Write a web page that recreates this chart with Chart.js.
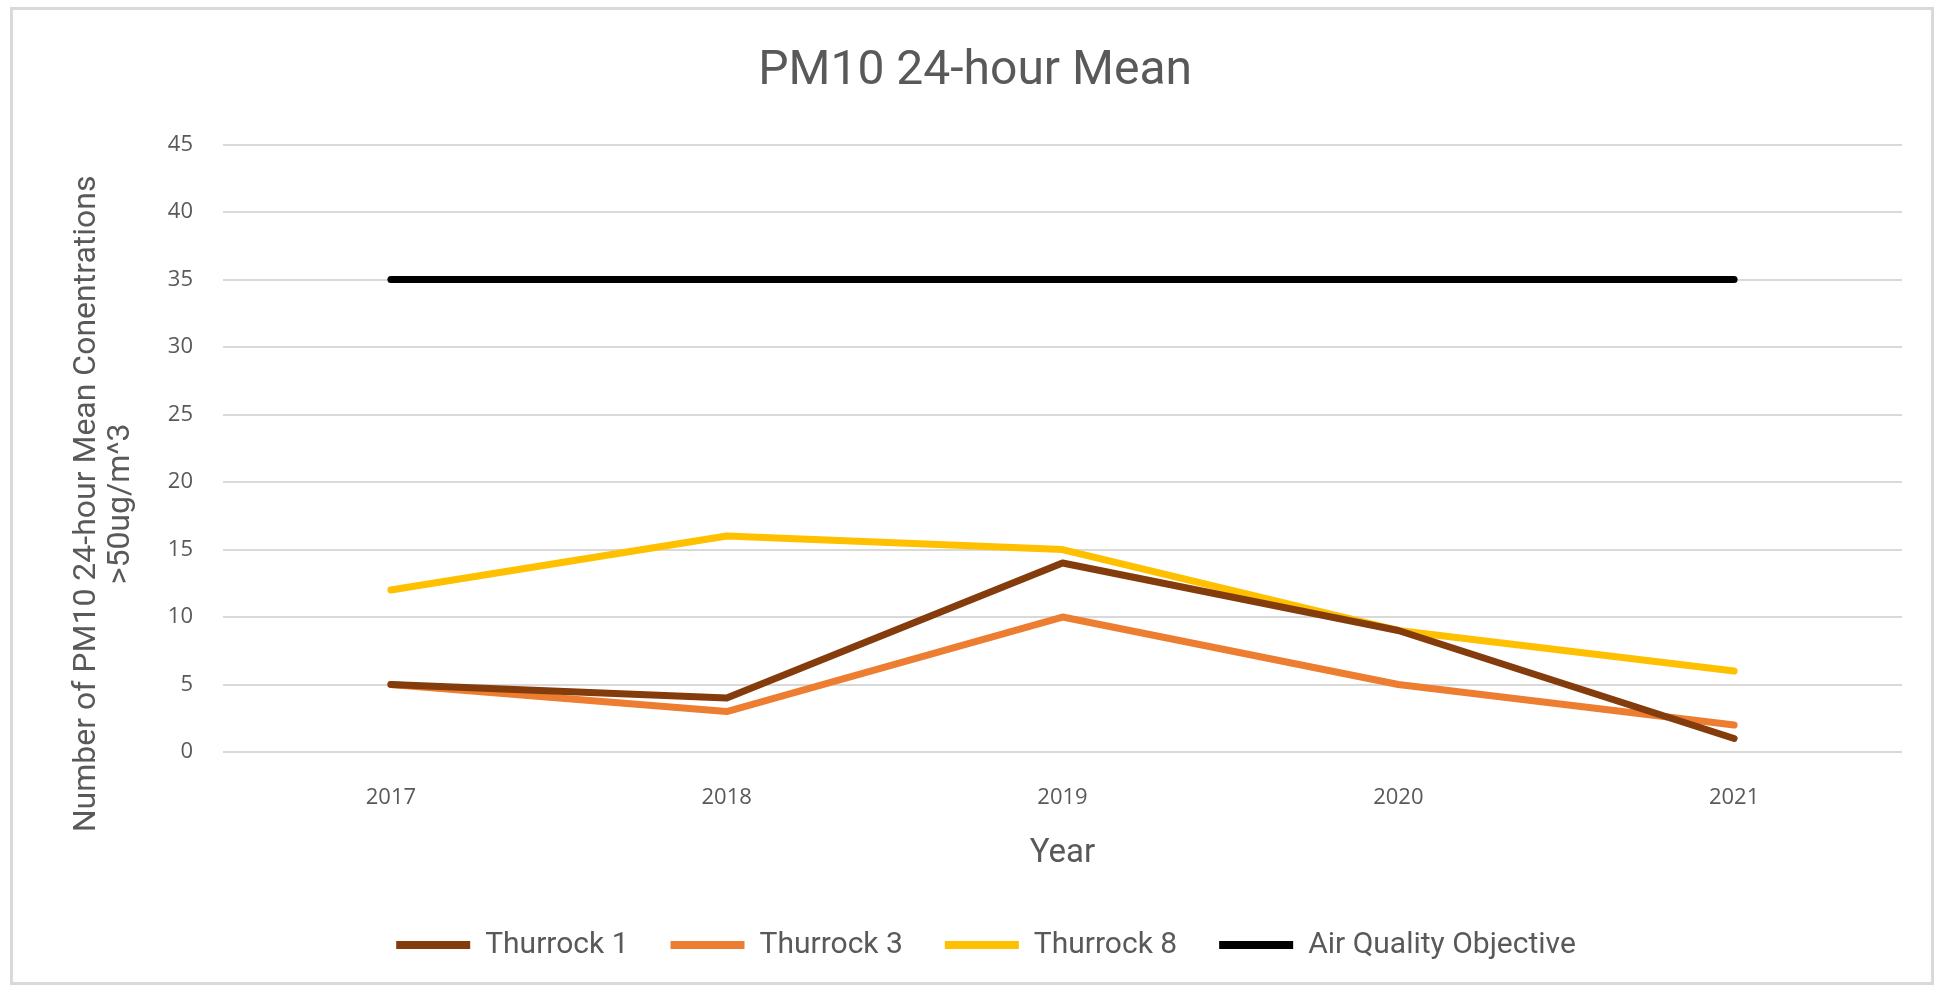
<!DOCTYPE html>
<html>
<head>
<meta charset="utf-8">
<script src="https://cdn.jsdelivr.net/npm/chart.js@4"></script>
<style>
  html, body { margin: 0; padding: 0; background: #fff; }
  #frame {
    position: absolute; left: 10px; top: 7px; width: 1924px; height: 978px;
    border: 3px solid #d9d9d9; box-sizing: border-box;
  }
  #wrap { position: absolute; left: 0; top: 0; width: 1945px; height: 992px; }
</style>
</head>
<body>
<div id="frame"></div>
<div id="wrap"><canvas id="pmChart" width="1945" height="992"></canvas></div>
<script>
const years = ["2017", "2018", "2019", "2020", "2021"];
const thurrock1 = [5, 4, 14, 9, 1];
const thurrock3 = [5, 3, 10, 5, 2];
const thurrock8 = [12, 16, 15, 9, 6];
const objective = [35, 35, 35, 35, 35];

const textColor = "#595959";
const titleFont = "'Roboto', sans-serif";
const tickFont = "'Open Sans', sans-serif";
// trailing gap so the rotated axis title sits a little lower, as in Excel
const pad = "\u00A0".repeat(14);

function line(label, data, color) {
  return {
    label: label,
    data: data,
    borderColor: color,
    backgroundColor: color,
    borderWidth: 7,
    pointRadius: 0,
    borderJoinStyle: "round",
    borderCapStyle: "round",
    tension: 0
  };
}

const ctx = document.getElementById("pmChart").getContext("2d");
const chart = new Chart(ctx, {
  type: "line",
  data: {
    labels: years,
    datasets: [
      line("Thurrock 1", thurrock1, "#843C0C"),
      line("Thurrock 3", thurrock3, "#ED7D31"),
      line("Thurrock 8", thurrock8, "#FFC000"),
      line("Air Quality Objective", objective, "#000000")
    ]
  },
  options: {
    responsive: false,
    animation: false,
    layout: { padding: { left: 70, right: 43, top: 20, bottom: 22 } },
    plugins: {
      title: {
        display: true,
        text: "PM10 24-hour Mean\u00A0\u2009",
        color: textColor,
        font: { family: titleFont, size: 48, weight: "normal" },
        padding: { top: 23, bottom: 44 }
      },
      legend: {
        position: "bottom",
        labels: {
          color: textColor,
          font: { family: titleFont, size: 30 },
          boxWidth: 74,
          boxHeight: 8,
          padding: 42,
          generateLabels: (c) => c.data.datasets.map((ds, i) => ({
            text: ds.label,
            fillStyle: ds.borderColor,
            strokeStyle: ds.borderColor,
            lineWidth: 0,
            fontColor: textColor,
            datasetIndex: i
          }))
        }
      },
      tooltip: { enabled: false }
    },
    scales: {
      x: {
        offset: true,
        grid: { display: false, drawTicks: false },
        border: { display: false },
        ticks: { color: textColor, font: { family: tickFont, size: 22 }, padding: 33 },
        title: {
          display: true,
          text: "Year",
          color: textColor,
          font: { family: titleFont, size: 33 },
          padding: { top: -10, bottom: 14 }
        }
      },
      y: {
        min: 0,
        max: 45,
        afterFit: (scale) => { scale.width = 153; },
        ticks: { stepSize: 5, color: textColor, font: { family: tickFont, size: 22 }, padding: 30 },
        grid: { color: "#d9d9d9", lineWidth: 2, drawTicks: false },
        border: { display: false },
        title: {
          display: true,
          text: ["Number of PM10 24-hour Mean Conentrations" + pad, ">50ug/m^3" + pad],
          color: textColor,
          font: { family: titleFont, size: 32, lineHeight: 1.06 },
          padding: { top: 0, bottom: 0 }
        }
      }
    }
  }
});
</script>
</body>
</html>
